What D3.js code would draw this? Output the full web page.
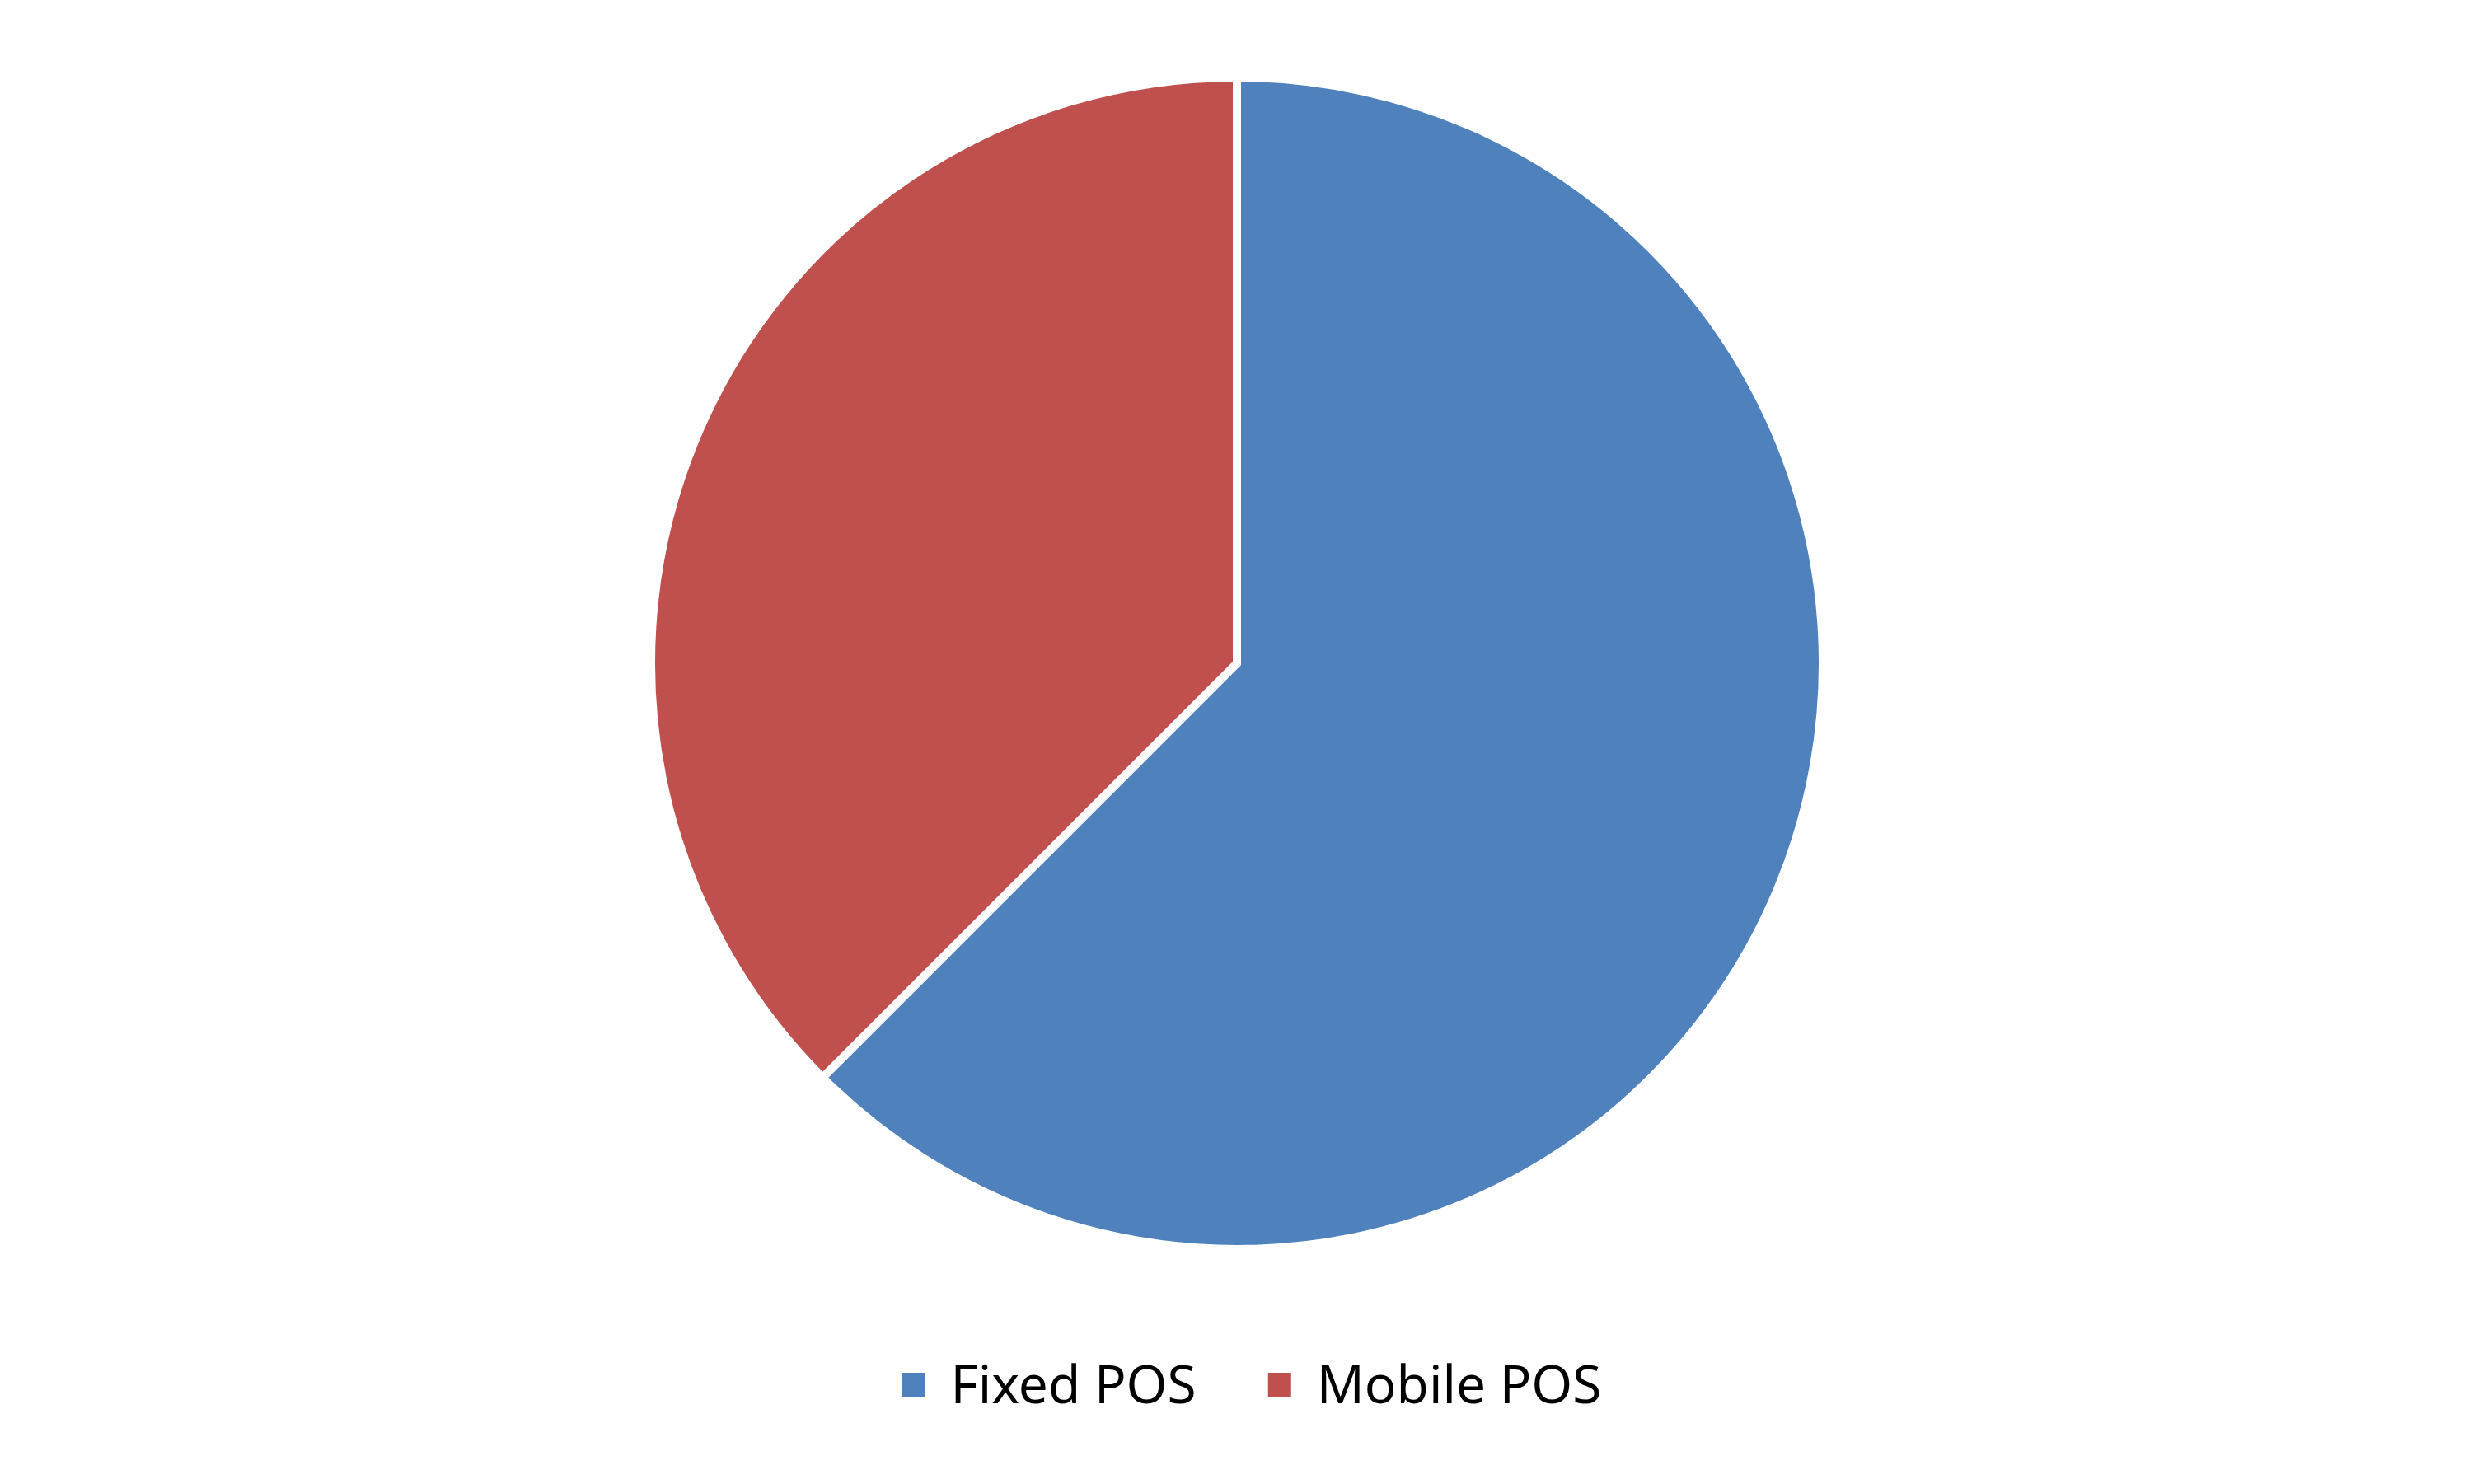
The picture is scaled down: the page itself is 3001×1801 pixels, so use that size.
<!DOCTYPE html>
<html>
<head>
<meta charset="utf-8">
<script src="https://cdn.jsdelivr.net/npm/d3@7"></script>
<style>
  body { margin: 0; background: #fff; }
  .legend-label { font-family: 'Noto Sans', sans-serif; font-size: 64px; fill: #000; }
</style>
</head>
<body>
<svg width="3001" height="1801"></svg>
<script>
const categories = ['Fixed POS', 'Mobile POS'];
const shares = [62.5, 37.5];
const colors = ['#4F81BD', '#C0504D'];

const svg = d3.select('svg');

const cx = 1501;
const cy = 805;
const strokeW = 10;
const radius = 706 + strokeW / 2;

const data = categories.map((c, i) => ({ name: c, value: shares[i] }));

const pie = d3.pie()
  .sort(null)
  .value(d => d.value);

const arc = d3.arc()
  .innerRadius(0)
  .outerRadius(radius);

const color = d3.scaleOrdinal()
  .domain(categories)
  .range(colors);

const g = svg.append('g')
  .attr('transform', `translate(${cx},${cy})`);

g.selectAll('path').data(pie(data))
  .enter().append('path')
    .attr('d', arc)
    .attr('fill', d => color(d.data.name))
    .attr('stroke', '#fff')
    .attr('stroke-width', strokeW)
    .attr('stroke-linejoin', 'miter');

// legend, centred below the pie
const legend = svg.append('g');
const box = 28;
const boxGap = 31;
const itemGap = 87;
const baseline = 1703;

const items = legend.selectAll('g').data(categories)
  .enter().append('g');

items.append('text')
  .attr('class', 'legend-label')
  .attr('y', baseline)
  .text(d => d);

const widths = [];
items.select('text').each(function() { widths.push(this.getComputedTextLength()); });

const total = d3.sum(widths) + categories.length * (box + boxGap) + itemGap * (categories.length - 1);
let x = 1519 - total / 2;
items.each(function(d, i) {
  const it = d3.select(this);
  it.append('rect')
    .attr('x', x)
    .attr('y', 1666)
    .attr('width', box)
    .attr('height', 29)
    .attr('fill', color(d));
  it.select('text').attr('x', x + box + boxGap);
  x += box + boxGap + widths[i] + itemGap;
});
</script>
</body>
</html>
